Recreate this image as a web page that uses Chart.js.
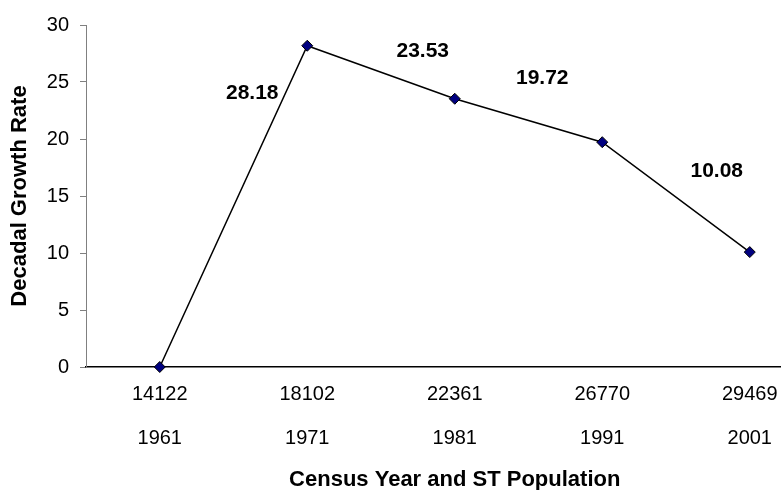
<!DOCTYPE html>
<html>
<head>
<meta charset="utf-8">
<script src="https://cdn.jsdelivr.net/npm/chart.js@4.4.1/dist/chart.umd.min.js"></script>
<style>
  html, body { margin: 0; padding: 0; background: #fff; overflow: hidden; width: 781px; height: 490px; }
  #chart { display: block; }
</style>
</head>
<body>
<!-- the original plot area runs past the right edge of the picture, so the canvas is wider than the window -->
<canvas id="chart" width="830" height="490"></canvas>
<script>
// values
const years = ['1961', '1971', '1981', '1991', '2001'];
const stPopulation = ['14122', '18102', '22361', '26770', '29469'];
const growthRate = [0, 28.18, 23.53, 19.72, 10.08];
const yTicks = [0, 5, 10, 15, 20, 25, 30];

// where each value label sits relative to its marker (px); first point has none
const labelOffsets = [null, [-55, 47], [-32, -48], [-60, -64], [-33, -81]];

const valueLabels = {
  id: 'valueLabels',
  afterDatasetsDraw(chart) {
    const ctx = chart.ctx;
    const meta = chart.getDatasetMeta(0);
    ctx.save();
    ctx.font = 'bold 21px "Liberation Sans", Arial, sans-serif';
    ctx.fillStyle = '#000';
    ctx.textAlign = 'center';
    ctx.textBaseline = 'middle';
    meta.data.forEach((pt, i) => {
      const off = labelOffsets[i];
      if (!off) return;
      ctx.fillText(growthRate[i].toFixed(2), pt.x + off[0], pt.y + off[1]);
    });
    ctx.restore();
  },
};

Chart.defaults.font.family = '"Liberation Sans", Arial, sans-serif';
Chart.defaults.color = '#000';

new Chart(document.getElementById('chart'), {
  type: 'line',
  data: {
    labels: stPopulation.map((p, i) => [p, years[i]]),
    datasets: [
      {
        data: growthRate,
        borderColor: '#000',
        borderWidth: 1.5,
        pointStyle: 'rectRot',
        pointRadius: 5.5,
        pointBackgroundColor: '#000080',
        pointBorderColor: '#000',
        pointBorderWidth: 1,
        tension: 0,
        clip: false,
      },
    ],
  },
  options: {
    responsive: false,
    devicePixelRatio: 1,
    animation: false,
    layout: { padding: { top: 25, right: 5, left: 0, bottom: 0 } },
    plugins: { legend: { display: false }, tooltip: { enabled: false } },
    scales: {
      x: {
        offset: true,
        afterFit: (axis) => { axis.height = 123; },
        grid: { display: false, drawTicks: false },
        border: { color: '#000', width: 1.5 },
        ticks: {
          padding: 5,
          maxRotation: 0,
          autoSkip: false,
          font: { size: 20, lineHeight: 2.2 },
        },
        title: {
          display: true,
          text: 'Census Year and ST Population',
          font: { size: 22, weight: 'bold', lineHeight: 0.9 },
          padding: { top: 0, bottom: 0 },
        },
      },
      y: {
        min: 0,
        max: 30,
        afterBuildTicks: (axis) => {
          axis.ticks = yTicks.map((v) => ({ value: v }));
        },
        afterFit: (axis) => { axis.width = 86; },
        grid: { drawOnChartArea: false, drawTicks: true, tickLength: 6, color: '#808080' },
        border: { color: '#808080', width: 1 },
        ticks: { padding: 11, font: { size: 20 } },
        title: {
          display: true,
          text: 'Decadal Growth Rate',
          font: { size: 22, weight: 'bold' },
          padding: { top: 7, bottom: 0 },
        },
      },
    },
  },
  plugins: [valueLabels],
});
</script>
</body>
</html>
